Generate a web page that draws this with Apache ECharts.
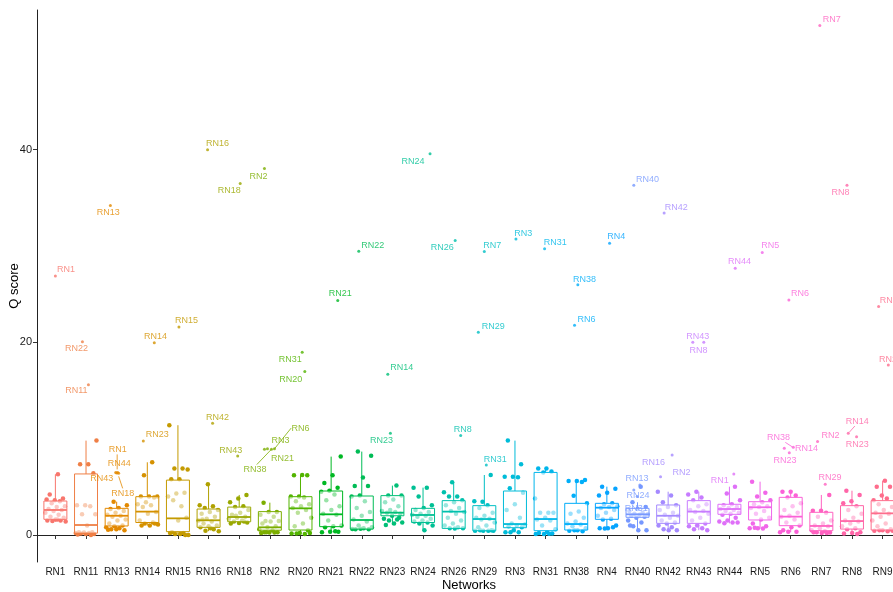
<!DOCTYPE html>
<html>
<head>
<meta charset="utf-8">
<script src="https://cdn.jsdelivr.net/npm/echarts@6/dist/echarts.min.js"></script>
<style>
html,body{margin:0;padding:0;background:#fff;overflow:hidden;}
#chart{width:901px;height:592px;}
</style>
</head>
<body>
<div id="chart"></div>
<script>
// ---------------- DATA ----------------
const categories = ['RN1','RN11','RN13','RN14','RN15','RN16','RN18','RN2','RN20','RN21','RN22','RN23','RN24','RN26','RN29','RN3','RN31','RN38','RN4','RN40','RN42','RN43','RN44','RN5','RN6','RN7','RN8','RN9'];

// box statistics (lower whisker, Q1, median, Q3, upper whisker)
const boxLow    = [1.4, 0.0, 0.5, 1.0, 0.0, 0.4, 1.2, 0.2, 0.1, 0.3, 0.6, 1.04, 0.5, 0.69, 0.45, 0.28, 0.1, 0.4, 0.69, 0.5, 0.5, 0.5, 1.21, 0.69, 0.3, 0.2, 0.1, 0.4];
const boxQ1     = [1.63, 0.2, 0.94, 1.3, 0.35, 0.8, 1.38, 0.5, 0.52, 0.87, 0.62, 2.0, 1.3, 0.69, 0.45, 0.76, 0.45, 0.52, 1.63, 1.84, 1.21, 1.21, 2.15, 1.56, 0.97, 0.45, 0.62, 0.52];
const boxMedian = [2.6, 1.04, 2.0, 2.43, 1.73, 1.53, 1.87, 0.8, 2.77, 2.15, 1.56, 2.32, 2.08, 2.43, 1.66, 1.14, 1.66, 1.14, 2.84, 2.15, 2.0, 2.43, 2.7, 2.88, 1.91, 0.94, 1.45, 2.25];
const boxQ3     = [3.53, 6.34, 2.77, 3.98, 5.7, 2.7, 2.9, 2.43, 3.98, 4.57, 4.05, 4.09, 2.77, 3.57, 3.05, 4.57, 6.5, 3.29, 3.29, 2.77, 3.12, 3.57, 3.19, 3.46, 3.91, 2.36, 3.05, 3.57];
const boxHigh   = [6.3, 9.8, 3.46, 7.55, 11.4, 5.26, 4.16, 3.36, 6.23, 8.14, 8.66, 5.13, 4.92, 5.47, 6.23, 9.8, 6.9, 5.71, 5.02, 3.4, 4.5, 4.5, 5.02, 5.54, 4.5, 4.16, 4.6, 5.64];

// individual Q scores (jittered points)
const pts_RN1  = [6.3, 4.2, 3.8, 3.6, 3.7, 3.5, 3.3, 3.0, 2.9, 2.7, 2.6, 2.5, 2.3, 2.1, 1.9, 1.8, 1.6, 1.5, 1.5, 1.45, 1.4, 1.6];
const pts_RN11 = [9.8, 7.35, 7.35, 6.4, 3.1, 3.1, 3.0, 2.15, 2.15, 1.0, 0.3, 0.3, 0.25, 0.2, 0.2, 0.15, 0.1, 0.1, 0.05, 0.0];
const pts_RN13 = [3.46, 3.1, 2.8, 2.7, 2.5, 2.3, 2.1, 2.0, 1.9, 1.6, 1.5, 1.2, 1.0, 0.9, 0.8, 0.7, 0.6, 0.5, 0.6, 0.55];
const pts_RN14 = [7.55, 6.2, 4.0, 4.0, 4.0, 3.9, 3.4, 3.2, 3.1, 2.9, 2.4, 2.2, 1.5, 1.3, 1.2, 1.1, 1.0, 1.0, 1.2];
const pts_RN15 = [11.4, 6.9, 6.9, 6.8, 5.8, 5.8, 4.4, 4.3, 4.0, 3.0, 3.6, 1.8, 1.5, 0.2, 0.2, 0.1, 0.0, 0.1, 0.3, 0.0];
const pts_RN16 = [5.26, 3.1, 3.0, 2.8, 2.6, 2.4, 2.2, 1.9, 1.7, 1.5, 1.4, 1.2, 1.0, 0.9, 0.8, 0.6, 0.45, 0.4, 0.7, 1.6];
const pts_RN18 = [4.16, 3.8, 3.4, 3.0, 2.9, 2.6, 2.3, 2.1, 1.9, 1.8, 1.7, 1.5, 1.4, 1.3, 1.25, 1.2, 1.4, 2.0];
const pts_RN2  = [3.36, 2.4, 2.4, 2.1, 1.9, 1.45, 1.45, 1.4, 1.2, 0.9, 0.8, 0.6, 0.5, 0.3, 0.3, 0.25, 0.2, 0.25, 0.3];
const pts_RN20 = [6.23, 6.2, 6.2, 4.0, 4.0, 3.9, 3.5, 3.2, 3.0, 2.8, 2.6, 2.3, 1.8, 1.2, 0.9, 0.5, 0.2, 0.15, 0.1, 0.15, 0.2];
const pts_RN21 = [8.14, 6.2, 5.4, 4.9, 4.6, 4.5, 4.2, 3.6, 3.0, 2.6, 2.2, 2.1, 1.5, 1.0, 0.9, 0.8, 0.35, 0.35, 0.3, 0.4];
const pts_RN22 = [8.66, 8.24, 5.96, 5.1, 5.1, 4.1, 4.0, 3.5, 2.8, 2.4, 2.0, 1.6, 1.4, 1.0, 0.8, 0.7, 0.6, 0.6, 0.65, 0.62];
const pts_RN23 = [5.13, 4.1, 4.1, 3.7, 3.4, 3.0, 2.6, 2.5, 2.4, 2.3, 2.2, 2.0, 1.7, 1.6, 1.5, 1.3, 1.2, 1.04, 1.8];
const pts_RN24 = [4.92, 4.9, 4.0, 3.1, 2.8, 2.6, 2.4, 2.2, 2.1, 2.0, 1.9, 1.7, 1.5, 1.4, 1.3, 1.2, 1.0, 0.5];
const pts_RN26 = [5.47, 4.43, 4.0, 4.0, 3.6, 3.4, 3.1, 2.8, 2.5, 2.4, 2.2, 1.8, 1.5, 1.2, 1.0, 0.8, 0.7, 0.7, 0.69];
const pts_RN29 = [6.23, 3.46, 3.5, 3.1, 2.8, 2.3, 2.0, 1.8, 1.7, 1.6, 1.3, 1.0, 0.8, 0.5, 0.45, 0.45, 0.45, 0.5, 0.45];
const pts_RN3  = [9.8, 7.35, 6.06, 6.06, 6.0, 4.85, 4.4, 3.2, 2.6, 1.8, 1.2, 1.1, 1.0, 0.9, 0.8, 0.5, 0.3, 0.28, 0.3];
const pts_RN31 = [6.9, 6.9, 6.6, 6.5, 3.8, 2.3, 2.3, 2.3, 1.8, 1.6, 1.5, 1.0, 0.6, 0.3, 0.2, 0.15, 0.1, 0.1, 0.12];
const pts_RN38 = [5.71, 5.6, 5.6, 5.5, 4.08, 3.3, 2.43, 2.2, 1.8, 1.4, 1.2, 1.1, 0.9, 0.7, 0.5, 0.45, 0.4, 0.5];
const pts_RN4  = [5.02, 4.8, 4.4, 4.1, 3.3, 3.2, 3.0, 2.9, 2.8, 2.6, 2.3, 2.0, 1.7, 1.6, 1.0, 0.7, 0.7, 0.8, 0.69];
const pts_RN40 = [5.02, 3.4, 2.9, 2.7, 2.5, 2.3, 2.2, 2.15, 2.1, 2.0, 1.9, 1.8, 1.5, 1.3, 0.9, 0.5, 0.5, 1.0];
const pts_RN42 = [4.5, 4.1, 3.4, 3.1, 2.9, 2.6, 2.3, 2.1, 2.0, 1.8, 1.5, 1.3, 1.2, 1.0, 0.8, 0.6, 0.5, 0.5];
const pts_RN43 = [4.5, 4.2, 3.9, 3.6, 3.2, 3.0, 2.6, 2.5, 2.4, 2.2, 1.8, 1.5, 1.2, 1.0, 0.9, 0.7, 0.6, 0.5];
const pts_RN44 = [5.02, 4.3, 3.6, 3.2, 3.1, 2.9, 2.8, 2.7, 2.6, 2.5, 2.3, 2.2, 2.1, 1.8, 1.5, 1.4, 1.3, 1.21, 1.3];
const pts_RN5  = [5.54, 4.4, 4.0, 3.6, 3.4, 3.2, 3.0, 2.9, 2.8, 2.5, 2.2, 1.8, 1.6, 1.2, 0.9, 0.7, 0.7, 0.69, 0.75];
const pts_RN6  = [4.5, 4.5, 4.1, 3.9, 3.3, 3.0, 2.6, 2.3, 2.0, 1.9, 1.6, 1.3, 1.0, 0.8, 0.5, 0.35, 0.35, 0.3];
const pts_RN7  = [4.16, 2.53, 2.53, 2.3, 1.9, 1.5, 1.2, 1.0, 0.9, 0.7, 0.5, 0.4, 0.3, 0.25, 0.2, 0.3, 0.2];
const pts_RN8  = [4.6, 4.16, 3.5, 3.3, 3.0, 2.6, 2.2, 1.8, 1.5, 1.4, 1.2, 0.9, 0.7, 0.6, 0.3, 0.2, 0.15, 0.1];
const pts_RN9  = [5.64, 5.0, 5.0, 4.1, 3.6, 3.8, 3.2, 2.9, 2.6, 2.3, 2.2, 1.9, 1.5, 1.2, 0.9, 0.6, 0.5, 0.45, 0.4, 0.5, 0.45];
const pointValues = [pts_RN1, pts_RN11, pts_RN13, pts_RN14, pts_RN15, pts_RN16, pts_RN18, pts_RN2, pts_RN20, pts_RN21, pts_RN22, pts_RN23, pts_RN24, pts_RN26, pts_RN29, pts_RN3, pts_RN31, pts_RN38, pts_RN4, pts_RN40, pts_RN42, pts_RN43, pts_RN44, pts_RN5, pts_RN6, pts_RN7, pts_RN8, pts_RN9];

// labelled outliers
const outlierCat   = ['RN1','RN11','RN11','RN13','RN13','RN13','RN13','RN13','RN14','RN14','RN15','RN16','RN16','RN18','RN18','RN2','RN2','RN2','RN2','RN2','RN20','RN20','RN21','RN22','RN23','RN23','RN24','RN26','RN26','RN29','RN29','RN29','RN3','RN31','RN38','RN38','RN4','RN40','RN40','RN40','RN40','RN42','RN42','RN42','RN43','RN43','RN44','RN44','RN5','RN6','RN6','RN6','RN6','RN7','RN7','RN7','RN8','RN8','RN8','RN9','RN9'];
const outlierValue = [26.9, 20.05, 15.6, 34.2, 6.5, 6.45, 6.5, 6.4, 19.95, 9.77, 21.6, 40.0, 11.6, 36.5, 8.2, 38.05, 8.9, 8.95, 8.9, 8.95, 18.98, 16.97, 24.35, 29.47, 16.7, 10.57, 39.58, 30.58, 10.32, 29.43, 21.06, 7.27, 30.72, 29.71, 25.97, 21.78, 30.3, 36.3, 5.2, 4.68, 4.0, 33.42, 6.06, 8.31, 20.0, 20.0, 27.7, 6.34, 29.33, 24.4, 9.1, 9.0, 8.55, 52.88, 9.7, 5.26, 36.3, 10.56, 10.2, 23.72, 17.66];
const outlierLabel = ['RN1','RN22','RN11','RN13','RN1','RN44','RN43','RN18','RN14','RN23','RN15','RN16','RN42','RN18','RN43','RN2','RN21','RN3','RN38','RN6','RN31','RN20','RN21','RN22','RN14','RN23','RN24','RN26','RN8','RN7','RN29','RN31','RN3','RN31','RN38','RN6','RN4','RN40','RN13','RN24','RN31','RN42','RN16','RN2','RN43','RN8','RN44','RN1','RN5','RN6','RN38','RN14','RN23','RN7','RN2','RN29','RN8','RN14','RN23','RN26','RN21'];

// ---------------- LAYOUT / STYLE (pixels) ----------------
// [point x nudge, label dx, label dy]
const outlierLayout = [
 [0,10.5,-6],[-3.6,-6,7],[2.4,-12,6],[-6.3,-2,7],[-1,2,-23],[0,2.5,-9],[1,-16,6],[2,4,20],
 [7,1.3,-6],[-4,14,-6],[1,7.5,-6],[-1,10,-6],[4,5,-6],[1,-11,7],[-1.5,-7,-6],
 [-5.4,-6,8],[-5.4,18,9],[-2.4,13,-8],[1.6,-16.5,20],[4.6,26,-20.4],
 [1.7,-12,7],[4.3,-14,7.5],[6.6,2.5,-7],[-3,14,-6],[-4.6,14,-6.6],[-2,-9,7.7],[7,-17,7.7],
 [1.5,-13,6.7],[7,2,-5.7],[0,8,-6],[-6,15,-6],[2,9,-5.7],[1,7.4,-6],[-1,10.7,-6.7],
 [1.6,6.7,-5.7],[-1.7,12,-6],[2.7,6.7,-6.7],[-3.7,13.7,-5.7],[2.3,-2.8,-6.7],[-3.7,4.2,6],[-0.3,-1,11.6],
 [-4,12,-6],[-7.6,-7,-14],[4,9.3,18],[-6,5,-6],[5,-5.3,7.7],[5.8,4.3,-6.7],[4.4,-14,6.7],
 [2.2,8,-6.7],[-1.8,11,-6],[2.6,-14.7,-9.6],[-6.4,22.3,0],[-1.4,-4.2,8],
 [-1.5,12,-6],[-3.8,13,-6],[3.9,4.8,-6.6],[-5,-6.6,7.6],[-3.7,9,-11.6],[4.6,0.7,7.6],
 [-4,12.7,-6],[5.7,2.3,-5]
];
// leader segments: [outlier index, x1, y1, x2, y2] relative to the point (px)
const leaderLines = [
 [4,1.5,-3,1.5,-18],[7,0,3,4,15],[18,0,0,-14.7,15.3],[19,0,0,16.7,-20.7],[50,-1,-0.5,-8,-5],[57,1,-1,6.6,-7.3]
];

// ggplot2 hue palette (HCL, c=100, l=65)
function hcl2hex(h, c, l) {
  const hr = h * Math.PI / 180;
  const U = c * Math.cos(hr), V = c * Math.sin(hr);
  const Xn = 95.047, Yn = 100, Zn = 108.883;
  const den = Xn + 15 * Yn + 3 * Zn;
  const un = 4 * Xn / den, vn = 9 * Yn / den;
  const Y = Yn * Math.pow((l + 16) / 116, 3);
  const u = U / (13 * l) + un, v = V / (13 * l) + vn;
  const X = 9 * Y * u / (4 * v);
  const Z = Y * (12 - 3 * u - 20 * v) / (4 * v);
  const x = X / 100, y = Y / 100, z = Z / 100;
  let r = 3.240479 * x - 1.537150 * y - 0.498535 * z;
  let g = -0.969256 * x + 1.875992 * y + 0.041556 * z;
  let b = 0.055648 * x - 0.204043 * y + 1.057311 * z;
  const gam = t => { t = t <= 0.0031308 ? 12.92 * t : 1.055 * Math.pow(t, 1 / 2.4) - 0.055; return Math.round(Math.max(0, Math.min(1, t)) * 255); };
  return '#' + [gam(r), gam(g), gam(b)].map(n => n.toString(16).padStart(2, '0')).join('');
}
const N = categories.length;
const colors = categories.map((_, i) => hcl2hex(15 + 360 * i / N, 100, 65));

const GRID_LEFT = 37, GRID_TOP = 10, GRID_RIGHT = 0, GRID_BOTTOM = 30, WIDTH = 901;
const X_MIN = 0.4, X_MAX = N + 0.6;
const pxPerUnit = (WIDTH - GRID_LEFT - GRID_RIGHT) / (X_MAX - X_MIN);

// jittered points
const jitterData = [];
pointValues.forEach((vals, ci) => {
  vals.forEach((v, k) => {
    const f = ((k + 1) * 0.6180339887 + ci * 0.37) % 1;
    jitterData.push([ci + 1 + (f - 0.5) * 0.7, v, ci]);
  });
});
const boxData = categories.map((c, i) => [i + 1, boxLow[i], boxQ1[i], boxMedian[i], boxQ3[i], boxHigh[i]]);
const outlierData = outlierValue.map((v, i) => {
  const ci = categories.indexOf(outlierCat[i]);
  const lay = outlierLayout[i];
  return {
    name: outlierLabel[i],
    value: [ci + 1 + lay[0] / pxPerUnit, v, ci],
    itemStyle: { color: colors[ci] },
    label: { offset: [lay[1], lay[2]], color: colors[ci] }
  };
});
const lineData = leaderLines.map(l => {
  const d = outlierData[l[0]].value;
  return [d[0], d[1], l[1], l[2], l[3], l[4], d[2]];
});

const FONT = 'Liberation Sans, Arial, Helvetica, sans-serif';
const chart = echarts.init(document.getElementById('chart'), null, { renderer: 'canvas' });
chart.setOption({
  animation: false,
  backgroundColor: '#fff',
  grid: { left: GRID_LEFT, top: GRID_TOP, right: GRID_RIGHT, bottom: GRID_BOTTOM, containLabel: false, outerBoundsMode: 'none' },
  xAxis: {
    type: 'value', min: X_MIN, max: X_MAX,
    name: 'Networks', nameLocation: 'middle', nameGap: 17, nameMoveOverlap: false,
    nameTextStyle: { fontSize: 13, color: '#000', fontFamily: FONT },
    axisLine: { show: true, lineStyle: { color: '#222', width: 1 } },
    axisTick: { show: true, length: 4, lineStyle: { color: '#333' }, customValues: categories.map((_, i) => i + 1) },
    axisLabel: { show: true, margin: 5, fontSize: 10, color: '#1a1a1a', fontFamily: FONT,
      customValues: categories.map((_, i) => i + 1),
      formatter: v => categories[Math.round(v) - 1] || '' },
    splitLine: { show: false }
  },
  yAxis: {
    type: 'value', min: -2.8, max: 54.5,
    name: 'Q score', nameLocation: 'middle', nameGap: 16, nameMoveOverlap: false,
    nameTextStyle: { fontSize: 13, color: '#000', fontFamily: FONT },
    axisLine: { show: true, lineStyle: { color: '#222', width: 1 } },
    axisTick: { show: true, length: 4, lineStyle: { color: '#333' }, customValues: [0, 20, 40] },
    axisLabel: { show: true, margin: 5, fontSize: 11, color: '#1a1a1a', fontFamily: FONT, customValues: [0, 20, 40] },
    splitLine: { show: false }
  },
  series: [
    {
      type: 'scatter', z: 2, symbolSize: 4.5,
      data: jitterData,
      itemStyle: { color: p => colors[p.data[2]], opacity: 1 },
      silent: true
    },
    {
      type: 'custom', z: 3,
      data: boxData,
      encode: { x: 0, y: [1, 2, 3, 4, 5] },
      renderItem: (params, api) => {
        const x = api.value(0);
        const lo = api.coord([x, api.value(1)]);
        const q1 = api.coord([x, api.value(2)]);
        const md = api.coord([x, api.value(3)]);
        const q3 = api.coord([x, api.value(4)]);
        const hi = api.coord([x, api.value(5)]);
        const half = api.size([0.75, 0])[0] / 2;
        const col = colors[params.dataIndex];
        const ls = { stroke: col, lineWidth: 1, fill: null };
        return {
          type: 'group',
          children: [
            { type: 'line', shape: { x1: lo[0], y1: lo[1], x2: q1[0], y2: q1[1] }, style: ls },
            { type: 'line', shape: { x1: q3[0], y1: q3[1], x2: hi[0], y2: hi[1] }, style: ls },
            { type: 'rect', shape: { x: q3[0] - half, y: q3[1], width: half * 2, height: q1[1] - q3[1] },
              style: { fill: 'rgba(255,255,255,0.6)', stroke: col, lineWidth: 1 } },
            { type: 'line', shape: { x1: md[0] - half, y1: md[1], x2: md[0] + half, y2: md[1] }, style: { stroke: col, lineWidth: 1.8 } }
          ]
        };
      },
      silent: true
    },
    {
      type: 'custom', z: 4,
      data: lineData,
      encode: { x: 0, y: 1 },
      renderItem: (params, api) => {
        const p = api.coord([api.value(0), api.value(1)]);
        const col = colors[api.value(6)];
        return { type: 'line', shape: { x1: p[0] + api.value(2), y1: p[1] + api.value(3), x2: p[0] + api.value(4), y2: p[1] + api.value(5) },
          style: { stroke: col, lineWidth: 0.8 } };
      },
      silent: true
    },
    {
      type: 'scatter', z: 5, symbolSize: 3,
      data: outlierData,
      label: { show: true, position: 'inside', formatter: p => p.name, fontSize: 9, fontFamily: FONT, align: 'center', verticalAlign: 'middle' },
      silent: true
    }
  ]
});
</script>
</body>
</html>
